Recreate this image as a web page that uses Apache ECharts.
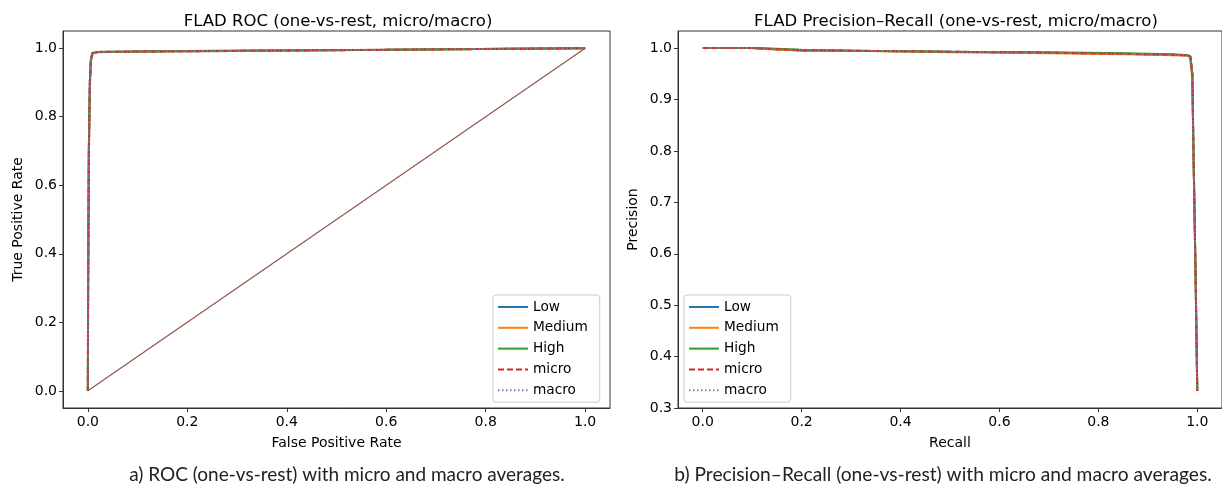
<!DOCTYPE html>
<html>
<head>
<meta charset="utf-8">
<script src="https://cdn.jsdelivr.net/npm/echarts@6/dist/echarts.min.js"></script>
<style>
  html, body { margin: 0; padding: 0; background: #fff; }
  #main { width: 1222px; height: 485px; }
</style>
</head>
<body>
<div id="main"></div>
<script>
// ROC (one-vs-rest)
const rocFprLow = [0, 0.0005, 0.002, 0.004, 0.006, 0.009, 0.02, 0.1, 0.3, 0.6, 0.85, 1.0];
const rocTprLow = [0, 0.3, 0.7, 0.9, 0.965, 0.985, 0.989, 0.99, 0.992, 0.995, 0.998, 1.0];
const rocFprMed = [0, 0.0005, 0.002, 0.004, 0.006, 0.01, 0.02, 0.1, 0.3, 0.6, 0.85, 1.0];
const rocTprMed = [0, 0.28, 0.68, 0.88, 0.96, 0.984, 0.988, 0.99, 0.992, 0.995, 0.998, 1.0];
const rocFprHigh = [0, 0.0005, 0.002, 0.004, 0.006, 0.009, 0.02, 0.1, 0.3, 0.6, 0.85, 1.0];
const rocTprHigh = [0, 0.32, 0.71, 0.9, 0.966, 0.986, 0.989, 0.99, 0.993, 0.995, 0.998, 1.0];
const rocFprMicro = [0, 0.0005, 0.002, 0.004, 0.006, 0.009, 0.02, 0.1, 0.3, 0.6, 0.85, 1.0];
const rocTprMicro = [0, 0.3, 0.7, 0.9, 0.964, 0.985, 0.989, 0.99, 0.992, 0.995, 0.998, 1.0];
const rocFprMacro = [0, 0.0005, 0.002, 0.004, 0.006, 0.009, 0.02, 0.1, 0.3, 0.6, 0.85, 1.0];
const rocTprMacro = [0, 0.3, 0.7, 0.9, 0.964, 0.985, 0.989, 0.99, 0.992, 0.995, 0.998, 1.0];
const chanceX = [0, 1];
const chanceY = [0, 1];

// Precision-Recall (one-vs-rest)
const prRecLow = [0, 0.05, 0.1, 0.15, 0.2, 0.3, 0.5, 0.7, 0.85, 0.95, 0.98, 0.986, 0.99, 0.992, 0.9966, 1.0];
const prPrecLow = [1.0, 1.0, 1.0, 0.998, 0.995, 0.995, 0.993, 0.991, 0.989, 0.987, 0.986, 0.984, 0.95, 0.82, 0.56, 0.333];
const prRecMed = [0, 0.05, 0.1, 0.15, 0.2, 0.3, 0.5, 0.7, 0.85, 0.95, 0.98, 0.985, 0.99, 0.992, 0.9966, 1.0];
const prPrecMed = [1.0, 1.0, 1.0, 0.997, 0.996, 0.995, 0.992, 0.99, 0.988, 0.986, 0.985, 0.983, 0.94, 0.81, 0.55, 0.333];
const prRecHigh = [0, 0.05, 0.1, 0.15, 0.2, 0.3, 0.5, 0.7, 0.85, 0.95, 0.98, 0.986, 0.99, 0.992, 0.9966, 1.0];
const prPrecHigh = [1.0, 1.0, 1.0, 0.999, 0.997, 0.995, 0.993, 0.992, 0.99, 0.988, 0.986, 0.984, 0.95, 0.82, 0.56, 0.333];
const prRecMicro = [0, 0.05, 0.1, 0.15, 0.2, 0.3, 0.5, 0.7, 0.85, 0.95, 0.98, 0.986, 0.99, 0.992, 0.9966, 1.0];
const prPrecMicro = [1.0, 1.0, 1.0, 0.998, 0.996, 0.995, 0.993, 0.991, 0.989, 0.987, 0.986, 0.984, 0.95, 0.82, 0.56, 0.333];
const prRecMacro = [0, 0.05, 0.1, 0.15, 0.2, 0.3, 0.5, 0.7, 0.85, 0.95, 0.98, 0.986, 0.99, 0.992, 0.9966, 1.0];
const prPrecMacro = [1.0, 1.0, 1.0, 0.998, 0.996, 0.995, 0.993, 0.991, 0.989, 0.987, 0.986, 0.984, 0.95, 0.82, 0.56, 0.333];

const ticksX = [0, 0.2, 0.4, 0.6, 0.8, 1.0];
const ticksRocY = [0, 0.2, 0.4, 0.6, 0.8, 1.0];
const ticksPrY = [0.3, 0.4, 0.5, 0.6, 0.7, 0.8, 0.9, 1.0];

const legendNames = ["Low", "Medium", "High", "micro", "macro"];

function pairs(xs, ys) {
  return xs.map((x, i) => [x, ys[i]]);
}

const font = "DejaVu Sans";

function mkSeries(name, xs, ys, idx, color, type) {
  return {
    name: name,
    type: "line",
    xAxisIndex: idx,
    yAxisIndex: idx,
    data: pairs(xs, ys),
    symbol: "none",
    silent: true,
    lineStyle: { color: color, width: 2, type: type || "solid" },
    itemStyle: { color: color },
  };
}

function mkXAxis(idx, name) {
  return {
    type: "value",
    gridIndex: idx,
    min: -0.05,
    max: 1.05,
    name: name,
    nameLocation: "middle",
    nameGap: 28,
    nameTextStyle: { fontFamily: font, fontSize: 14, color: "#000" },
    axisLine: { show: true, onZero: false, lineStyle: { color: "#333" } },
    axisTick: { show: true, length: 4, customValues: ticksX, lineStyle: { color: "#333" } },
    axisLabel: {
      customValues: ticksX,
      formatter: (v) => v.toFixed(1),
      fontFamily: font,
      fontSize: 14,
      color: "#000",
      margin: 7,
    },
    splitLine: { show: false },
  };
}

function mkYAxis(idx, name, min, max, ticks) {
  return {
    type: "value",
    gridIndex: idx,
    min: min,
    max: max,
    name: name,
    nameLocation: "middle",
    nameGap: 38,
    nameTextStyle: { fontFamily: font, fontSize: 14, color: "#000" },
    axisLine: { show: true, onZero: false, lineStyle: { color: "#333" } },
    axisTick: { show: true, length: 4, customValues: ticks, lineStyle: { color: "#333" } },
    axisLabel: {
      customValues: ticks,
      formatter: (v) => v.toFixed(1),
      fontFamily: font,
      fontSize: 14,
      color: "#000",
      margin: 6,
    },
    splitLine: { show: false },
  };
}

function mkLegend(left) {
  return {
    data: legendNames,
    orient: "vertical",
    left: left,
    top: 295,
    itemWidth: 30,
    itemHeight: 14,
    itemGap: 6.8,
    padding: [5, 12, 5, 4],
    backgroundColor: "#fff",
    borderColor: "#ccc",
    borderWidth: 1,
    borderRadius: 3,
    selectedMode: false,
    itemStyle: { opacity: 0 },
    textStyle: { fontFamily: font, fontSize: 13.7, color: "#000" },
  };
}

const C = ["#1f77b4", "#ff7f0e", "#2ca02c", "#d62728", "#9467bd", "#8c564b"];

const chart = echarts.init(document.getElementById("main"), null, { renderer: "canvas" });
chart.setOption({
  animation: false,
  backgroundColor: "#fff",
  title: [
    {
      text: "FLAD ROC (one-vs-rest, micro/macro)",
      left: 333, top: 8, textAlign: "center",
      textStyle: { fontFamily: font, fontSize: 16.5, fontWeight: "normal", color: "#000" },
    },
    {
      text: "FLAD Precision–Recall (one-vs-rest, micro/macro)",
      left: 951, top: 8, textAlign: "center",
      textStyle: { fontFamily: font, fontSize: 16.5, fontWeight: "normal", color: "#000" },
    },
    {
      text: "a) ROC (one-vs-rest) with micro and macro averages.",
      left: 342, top: 460, textAlign: "center",
      textStyle: { fontFamily: "Lato", fontSize: 19, fontWeight: "normal", color: "#222" },
    },
    {
      text: "b) Precision–Recall (one-vs-rest) with micro and macro averages.",
      left: 938, top: 460, textAlign: "center",
      textStyle: { fontFamily: "Lato", fontSize: 19.2, fontWeight: "normal", color: "#222" },
    },
  ],
  legend: [mkLegend(493), mkLegend(684)],
  grid: [
    { left: 63, top: 31, width: 547, height: 377, show: true, borderColor: "#333", borderWidth: 1, containLabel: false },
    { left: 678, top: 31, width: 547, height: 377, show: true, borderColor: "#333", borderWidth: 1, containLabel: false },
  ],
  xAxis: [mkXAxis(0, "False Positive Rate"), mkXAxis(1, "Recall")],
  yAxis: [
    mkYAxis(0, "True Positive Rate", -0.05, 1.05, ticksRocY),
    mkYAxis(1, "Precision", 0.3, 1.0333, ticksPrY),
  ],
  series: [
    mkSeries("Low", rocFprLow, rocTprLow, 0, C[0]),
    mkSeries("Medium", rocFprMed, rocTprMed, 0, C[1]),
    mkSeries("High", rocFprHigh, rocTprHigh, 0, C[2]),
    mkSeries("micro", rocFprMicro, rocTprMicro, 0, C[3], [6, 3]),
    mkSeries("macro", rocFprMacro, rocTprMacro, 0, C[4], [1.5, 2.5]),
    {
      name: "chance",
      type: "line",
      xAxisIndex: 0,
      yAxisIndex: 0,
      data: pairs(chanceX, chanceY),
      symbol: "none",
      silent: true,
      lineStyle: { color: C[5], width: 1.2 },
    },
    mkSeries("Low", prRecLow, prPrecLow, 1, C[0]),
    mkSeries("Medium", prRecMed, prPrecMed, 1, C[1]),
    mkSeries("High", prRecHigh, prPrecHigh, 1, C[2]),
    mkSeries("micro", prRecMicro, prPrecMicro, 1, C[3], [6, 3]),
    mkSeries("macro", prRecMacro, prPrecMacro, 1, C[4], [1.5, 2.5]),
  ],
});
</script>
</body>
</html>
